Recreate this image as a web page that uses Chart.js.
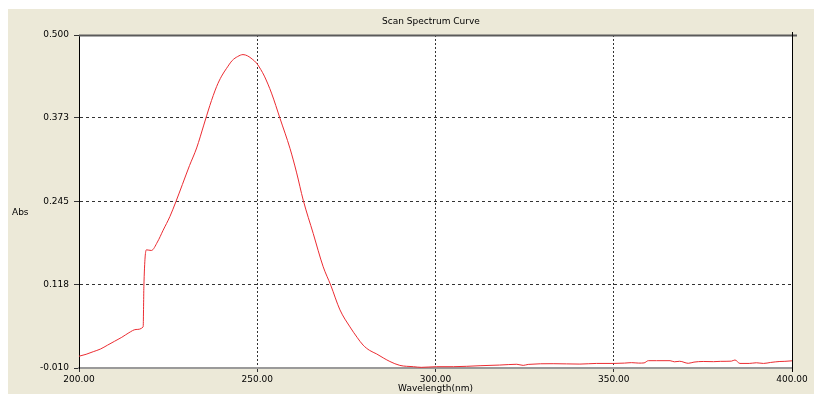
<!DOCTYPE html>
<html>
<head>
<meta charset="utf-8">
<title>Scan Spectrum Curve</title>
<script src="https://cdn.jsdelivr.net/npm/chart.js@4.4.1/dist/chart.umd.min.js"></script>
<style>
  html, body { margin: 0; padding: 0; background: #fff; }
  #wrap { width: 814px; height: 394px; }
</style>
</head>
<body>
<div id="wrap"><canvas id="spectrum" width="814" height="394"></canvas></div>
<script>
// wavelength (nm) and absorbance
const wavelengths = [
  200, 202, 204, 206, 208, 210, 212, 214, 216, 218,
  218.2, 218.9, 220.3, 222, 223.6, 225.5, 227.2, 229, 231, 233,
  235, 236.7, 238.6, 240, 241.4, 243, 244.5, 246, 247.3, 248.6,
  249.8, 251, 252, 254, 256.4, 259.2, 261, 262.9, 265.7, 268.5,
  270.6, 273.2, 276, 278, 279.7, 281.5, 283.5, 285.5, 287.2, 290,
  293.8, 296, 300.3, 305, 312.5, 318, 322.8, 324.6, 326, 333,
  340.5, 345.2, 350, 353, 355, 357, 358.5, 359.7, 362, 365.8,
  367, 368.5, 370.9, 372.5, 375.1, 378, 380, 383, 384, 385.4,
  388, 390, 392, 394, 396.6, 398, 400
];
const absorbance = [
  0.008, 0.011, 0.015, 0.019, 0.025, 0.031, 0.037, 0.044, 0.049, 0.053,
  0.115, 0.171, 0.170, 0.183, 0.201, 0.222, 0.245, 0.271, 0.300, 0.327,
  0.362, 0.392, 0.421, 0.437, 0.449, 0.461, 0.467, 0.470, 0.468, 0.463,
  0.457, 0.447, 0.437, 0.411, 0.372, 0.326, 0.290, 0.247, 0.196, 0.145,
  0.117, 0.079, 0.053, 0.037, 0.025, 0.017, 0.0115, 0.005, 0.000, -0.006,
  -0.008, -0.009, -0.008, -0.008, -0.0065, -0.0055, -0.0043, -0.006, -0.0045, -0.0034,
  -0.004, -0.003, -0.003, -0.0025, -0.0018, -0.0025, -0.0022, 0.0012, 0.0012, 0.0012,
  -0.0005, 0.0003, -0.0028, -0.001, 0.0, -0.0003, 0.0002, 0.0005, 0.0023, -0.003,
  -0.003, -0.002, -0.003, -0.0015, 0.0, 0.0002, 0.001
];
const yTickValues = [0.5, 0.373, 0.245, 0.118, -0.01];
const xTickStep = 50;

const chartTitle = "Scan Spectrum Curve";
const yLabel = "Abs";
const xLabel = "Wavelength(nm)";

const FONT = "DejaVu Sans";
const BEIGE = "#ece9d8";

// background panel, frame lines and the loose labels
const framePlugin = {
  id: "frame",
  beforeDraw(chart) {
    const ctx = chart.ctx;
    const a = chart.chartArea;
    ctx.save();
    ctx.fillStyle = "#fff";
    ctx.fillRect(0, 0, chart.width, chart.height);
    ctx.fillStyle = BEIGE;
    ctx.fillRect(8, 9, chart.width - 8, chart.height - 9);
    ctx.fillStyle = "#fff";
    ctx.fillRect(a.left, a.top, a.right - a.left, a.bottom - a.top);
    ctx.restore();
  },
  afterDraw(chart) {
    const ctx = chart.ctx;
    const a = chart.chartArea;
    ctx.save();
    // top edge, covers the 0.500 grid line
    ctx.strokeStyle = "#5a5a5a";
    ctx.lineWidth = 2;
    ctx.beginPath();
    ctx.moveTo(a.left, a.top + 0.5);
    ctx.lineTo(a.right + 5, a.top + 0.5);
    ctx.stroke();
    // right edge
    ctx.strokeStyle = "#000";
    ctx.lineWidth = 1;
    ctx.beginPath();
    ctx.moveTo(a.right + 0.5, a.top - 3);
    ctx.lineTo(a.right + 0.5, a.bottom + 4);
    ctx.stroke();

    ctx.fillStyle = "#000";
    ctx.font = "9px '" + FONT + "'";
    ctx.textBaseline = "middle";
    ctx.textAlign = "center";
    ctx.fillText(chartTitle, 431, 22);
    ctx.textAlign = "left";
    ctx.fillText(yLabel, 12, 213);
    ctx.restore();
  }
};

const points = wavelengths.map((w, i) => ({ x: w, y: absorbance[i] }));

new Chart(document.getElementById("spectrum"), {
  type: "line",
  data: {
    datasets: [{
      data: points,
      borderColor: "rgb(236, 44, 50)",
      borderWidth: 1,
      pointRadius: 0,
      cubicInterpolationMode: "monotone",
      fill: false
    }]
  },
  options: {
    responsive: false,
    animation: false,
    devicePixelRatio: 1,
    layout: { padding: { top: 35, right: 22, bottom: 0, left: 0 } },
    plugins: {
      legend: { display: false },
      title: { display: false },
      tooltip: { enabled: false }
    },
    scales: {
      x: {
        type: "linear",
        min: 200,
        max: 400,
        afterFit: (scale) => { scale.height = 26; },
        ticks: {
          stepSize: xTickStep,
          color: "#000",
          font: { family: FONT, size: 9 },
          padding: 2,
          maxRotation: 0,
          callback: (v) => Number(v).toFixed(2)
        },
        grid: {
          color: "#333",
          tickLength: 4,
          tickColor: "#333"
        },
        // in v4 border.dash sets the dash of the grid lines
        border: { color: "#9a9a9a", width: 2, dash: [2, 2] },
        title: {
          display: true,
          text: xLabel,
          color: "#000",
          font: { family: FONT, size: 9 },
          padding: { top: 0, bottom: 0 }
        }
      },
      y: {
        type: "linear",
        min: -0.01,
        max: 0.5,
        afterFit: (scale) => { scale.width = 79; },
        afterBuildTicks: (scale) => {
          scale.ticks = yTickValues.map((v) => ({ value: v }));
        },
        ticks: {
          color: "#000",
          font: { family: FONT, size: 9 },
          padding: 5,
          callback: (v) => Number(v).toFixed(3)
        },
        grid: {
          color: "#333",
          tickLength: 5,
          tickColor: "#333"
        },
        border: { color: "#000", width: 1, dash: [3, 3] }
      }
    }
  },
  plugins: [framePlugin]
});
</script>
</body>
</html>
